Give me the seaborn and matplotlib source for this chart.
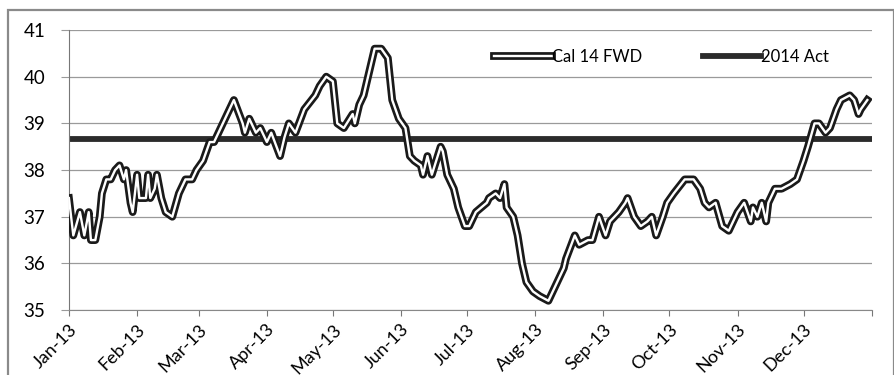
import pandas as pd
import matplotlib.pyplot as plt
import matplotlib.dates as mdates
import matplotlib.patheffects as pe
from matplotlib.patches import Rectangle
from matplotlib.lines import Line2D
import seaborn as sns

# Cal 14 FWD price (days since 1 Jan 2013)
fwd_days = [0, 2, 5, 7, 9, 10, 12, 14, 15, 17, 19, 21, 23, 25, 26, 28, 29, 31, 32, 35,
            36, 37, 39, 40, 42, 44, 47, 50, 51, 53, 56, 58, 61, 64, 66, 70, 72, 75, 79, 80,
            82, 85, 87, 90, 92, 96, 98, 100, 103, 107, 112, 114, 117, 120, 122, 125, 129, 130, 132, 134,
            136, 139, 142, 145, 147, 150, 153, 155, 157, 160, 161, 163, 165, 169, 170, 172, 175, 177, 180, 182,
            185, 190, 191, 194, 196, 198, 199, 202, 204, 206, 208, 211, 214, 218, 221, 225, 226, 230, 232, 236,
            238, 241, 244, 246, 250, 253, 254, 257, 260, 263, 265, 267, 270, 272, 275, 280, 284, 287, 289, 291,
            294, 297, 300, 304, 307, 310, 311, 313, 315, 317, 318, 321, 324, 328, 331, 334, 336, 339, 341, 344,
            346, 349, 351, 355, 357, 359, 360, 363]
fwd_values = [37.4, 36.6, 37.1, 36.6, 37.1, 36.5, 36.5, 37.0, 37.5, 37.8, 37.8, 38.0, 38.1, 37.8, 38.0, 37.3, 37.1, 37.9, 37.4, 37.4,
              37.9, 37.4, 37.6, 37.9, 37.4, 37.1, 37.0, 37.5, 37.6, 37.8, 37.8, 38.0, 38.2, 38.6, 38.6, 39.0, 39.2, 39.5, 39.0, 38.8,
              39.1, 38.8, 38.9, 38.6, 38.8, 38.3, 38.7, 39.0, 38.8, 39.3, 39.6, 39.8, 40.0, 39.9, 39.0, 38.9, 39.2, 39.0, 39.4, 39.6,
              40.0, 40.6, 40.6, 40.4, 39.5, 39.1, 38.9, 38.3, 38.2, 38.1, 37.9, 38.3, 37.9, 38.5, 38.4, 37.9, 37.6, 37.2, 36.8, 36.8,
              37.1, 37.3, 37.4, 37.5, 37.4, 37.7, 37.2, 37.0, 36.6, 36.0, 35.6, 35.4, 35.3, 35.2, 35.5, 35.9, 36.1, 36.6, 36.4, 36.5,
              36.5, 37.0, 36.6, 36.9, 37.1, 37.3, 37.4, 37.0, 36.8, 36.9, 37.0, 36.6, 37.0, 37.3, 37.5, 37.8, 37.8, 37.6, 37.3, 37.2,
              37.3, 36.8, 36.7, 37.1, 37.3, 36.9, 37.2, 37.0, 37.3, 36.9, 37.3, 37.6, 37.6, 37.7, 37.8, 38.2, 38.5, 39.0, 39.0, 38.8,
              38.9, 39.3, 39.5, 39.6, 39.5, 39.2, 39.3, 39.5]

act_dates = ["2013-01-01", "2014-01-01"]
act_values = [38.67, 38.67]

yticks = [35, 36, 37, 38, 39, 40, 41]

start = pd.Timestamp("2013-01-01")
fwd = pd.DataFrame({"date": start + pd.to_timedelta(fwd_days, unit="D"), "price": fwd_values})
act = pd.DataFrame({"date": pd.to_datetime(act_dates), "price": act_values})

plt.rcParams["font.family"] = ["Lato", "DejaVu Sans"]

fig = plt.figure(figsize=(8.95, 3.75), dpi=100)
ax = fig.add_axes([0.077, 0.173, 0.897, 0.747])

outline = [pe.Stroke(linewidth=5.6, foreground="#1a1a1a"), pe.Normal()]

# horizontal "2014 Act" bar goes underneath the forward curve
sns.lineplot(data=act, x="date", y="price", ax=ax, color="#2b2b2b", lw=4.2,
             zorder=2, legend=False)
# double line look: white core with black outline
sns.lineplot(data=fwd, x="date", y="price", ax=ax, color="white", lw=1.7,
             zorder=3, path_effects=outline, legend=False)

ax.set_xlim(pd.Timestamp("2013-01-01"), pd.Timestamp("2014-01-01"))
ax.set_ylim(35, 41)
ax.set_yticks(yticks)
ax.yaxis.grid(True, color="#9a9a9a", lw=0.9)
ax.set_axisbelow(True)

ax.xaxis.set_major_locator(mdates.MonthLocator())
ticks = ax.get_xticks()
ax.set_xticks(ticks)
ax.set_xticklabels([mdates.num2date(t).strftime("%b-%y") if i < 12 else ""
                    for i, t in enumerate(ticks)])
plt.setp(ax.get_xticklabels(), rotation=45, ha="right", rotation_mode="anchor")

ax.tick_params(axis="x", direction="out", length=4, color="#777777", labelsize=13, pad=4)
ax.tick_params(axis="y", direction="out", length=6, color="#9a9a9a", labelsize=13.5, pad=11)
ax.set_xlabel("")
ax.set_ylabel("")

for s in ["top", "right"]:
    ax.spines[s].set_visible(False)
ax.spines["left"].set_color("#777777")
ax.spines["bottom"].set_color("#888888")

h_fwd = Line2D([], [], color="white", lw=1.7, path_effects=outline)
h_act = Line2D([], [], color="#2b2b2b", lw=4.2)
ax.legend([h_fwd, h_act], ["Cal 14 FWD", "2014 Act"], ncol=2, frameon=False,
          loc="center", bbox_to_anchor=(0.738, 0.905), fontsize=12, handlelength=3.5,
          handletextpad=0.0, columnspacing=3.6)

# chart area border
fig.patches.append(Rectangle((8 / 895, -0.05), 0.99, 1.05 - 10 / 375, transform=fig.transFigure,
                             fill=False, edgecolor="#8a8a8a", lw=1.6))

fig.savefig("out.png", dpi=100)
